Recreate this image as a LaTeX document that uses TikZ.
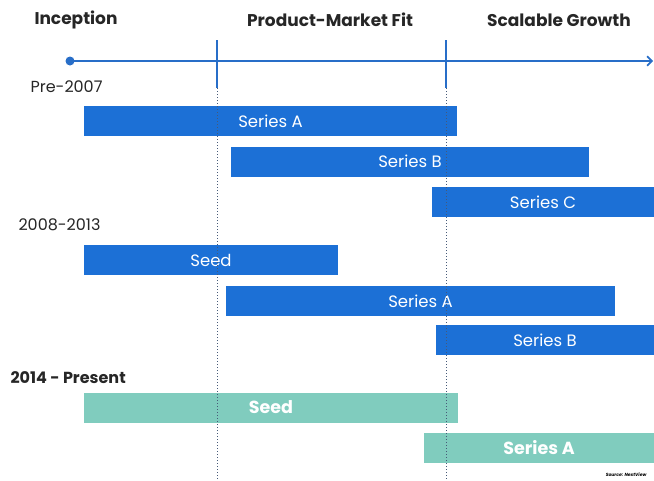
\documentclass[tikz,border=0pt]{standalone}
\usepackage{fontspec}
\setmainfont{Poppins}
\usetikzlibrary{arrows.meta,positioning}
\definecolor{barblue}{RGB}{28,112,214}
\definecolor{barteal}{RGB}{128,204,190}
\definecolor{axisblue}{RGB}{40,110,200}
\definecolor{guide}{RGB}{70,90,120}
\tikzset{>=Straight Barb}
\tikzset{bar/.style = {rectangle, inner sep=0pt, minimum height=30pt, fill=barblue, text=white, font=\fontsize{16.5}{16.5}\selectfont},
         tealbar/.style = {bar, fill=barteal, font=\fontsize{17.5}{17.5}\selectfont\bfseries},
         stage/.style = {font=\fontsize{17}{17}\selectfont\bfseries, text=black!85},
         era/.style = {anchor=west, font=\fontsize{16}{16}\selectfont, text=black!85}}

\begin{document}
\begin{tikzpicture}[x=1pt, y=-1pt]
    \useasboundingbox (0,0) rectangle (654,480);

    % stage titles
    \node[stage] (incep) at (76,20) {Inception};
    \node[stage] (pmf) at (330,20) {Product-Market Fit};
    \node[stage] (growth) at (559,20) {Scalable Growth};

    % time axis
    \coordinate (start) at (70,61);
    \coordinate (end) at (653,61);
    \draw [axisblue, line width=1.6pt, ->] (start) -- (end);
    \fill [axisblue] (start) circle (4.5pt);

    % era labels
    \node[era] (pre) at (27,87) {Pre-2007};
    \node[era] (mid) at (15,225) {2008-2013};
    \node[era, font=\fontsize{16}{16}\selectfont\bfseries] (now) at (7,378) {2014 - Present};

    % rounds before 2007
    \node[bar, minimum width=373pt] (preA) at (270.5,121) {Series A};
    \node[bar, minimum width=358pt] (preB) at (410,161.5) {Series B};
    \node[bar, minimum width=222pt] (preC) at (543,202) {Series C};

    % rounds 2008-2013
    \node[bar, minimum width=254pt] (midSeed) at (211,260) {Seed};
    \node[bar, minimum width=389pt] (midA) at (420.5,301) {Series A};
    \node[bar, minimum width=218pt] (midB) at (545,340) {Series B};

    % rounds 2014 - present
    \node[tealbar, minimum width=374pt] (nowSeed) at (271,407.5) {Seed};
    \node[tealbar, minimum width=230pt] (nowA) at (539,447.5) {Series A};

    % stage borders
    \foreach \x/\name in {217/pmfline, 446/growline} {
        \coordinate (\name top) at (\x,40);
        \coordinate (\name mid) at (\x,88);
        \coordinate (\name bot) at (\x,480);
        \draw [axisblue, line width=1.2pt] (\name top) -- (\name mid);
        \draw [guide, line width=1pt, dotted] (\name mid) -- (\name bot);
    }

    \node[font=\fontsize{4.5}{4.5}\selectfont\bfseries\itshape, anchor=east] (src) at (650,475) {Source: NextView};
\end{tikzpicture}
\end{document}
